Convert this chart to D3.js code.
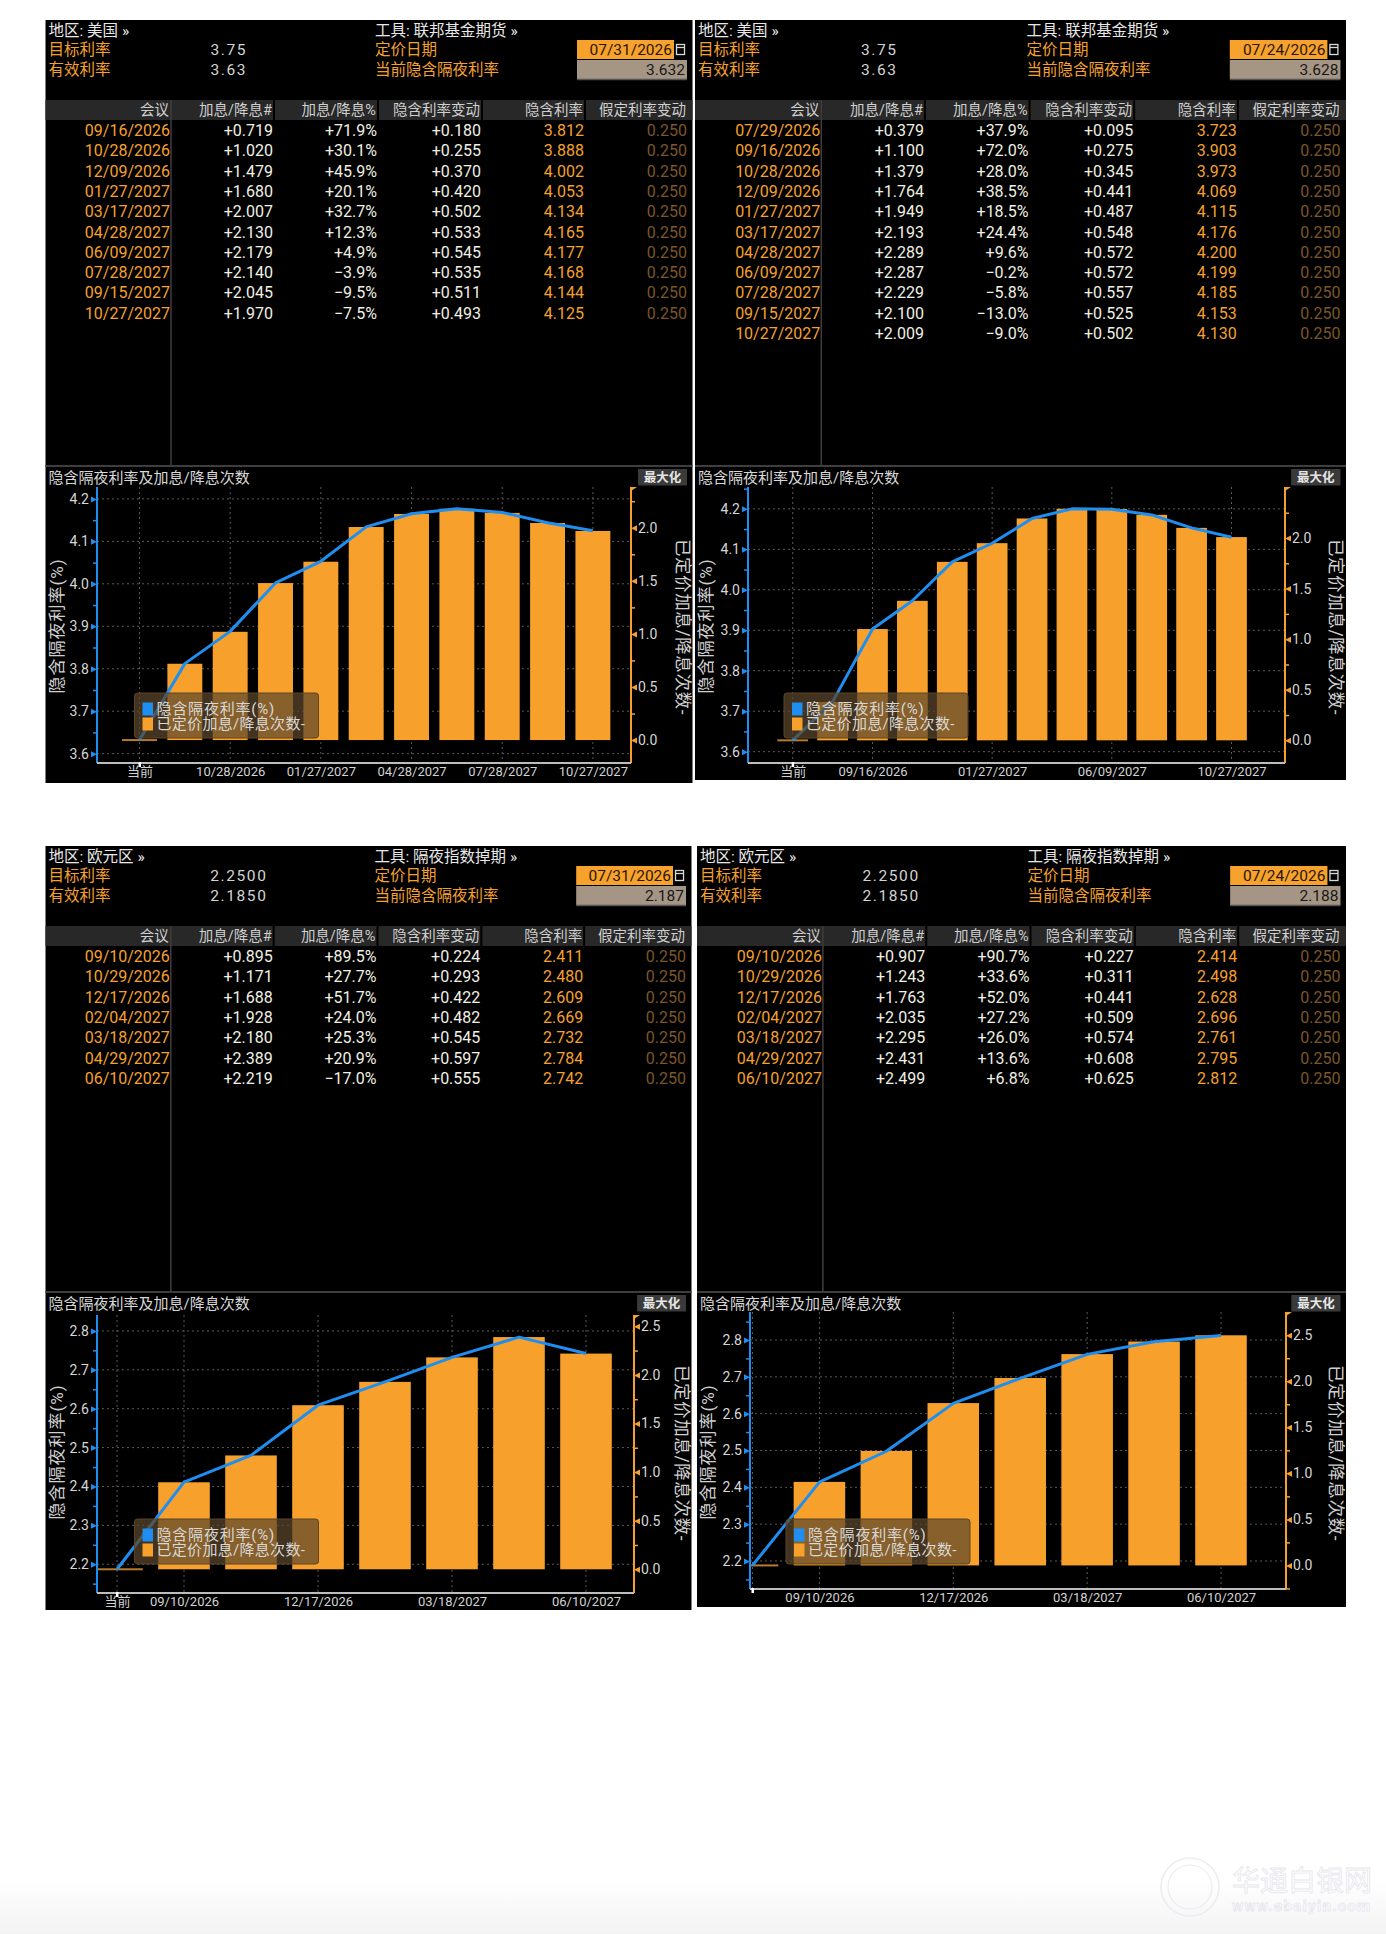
<!DOCTYPE html>
<html><head><meta charset="utf-8">
<script src="https://cdn.jsdelivr.net/npm/d3@7/dist/d3.min.js"></script>
<style>
body{margin:0;background:#fff}
text{font-family:Roboto,'Noto Sans CJK SC',sans-serif}
</style>
</head><body>
<svg id="c" width="1386" height="1934"></svg>
<script>
// ---------------- DATA ----------------
const usNewDates   = ["09/16/2026","10/28/2026","12/09/2026","01/27/2027","03/17/2027","04/28/2027","06/09/2027","07/28/2027","09/15/2027","10/27/2027"];
const usNewHikes   = [0.719,1.020,1.479,1.680,2.007,2.130,2.179,2.140,2.045,1.970];
const usNewPct     = [71.9,30.1,45.9,20.1,32.7,12.3,4.9,-3.9,-9.5,-7.5];
const usNewChg     = [0.180,0.255,0.370,0.420,0.502,0.533,0.545,0.535,0.511,0.493];
const usNewImplied = [3.812,3.888,4.002,4.053,4.134,4.165,4.177,4.168,4.144,4.125];
const usNewXLabels = ["当前","10/28/2026","01/27/2027","04/28/2027","07/28/2027","10/27/2027"];

const usOldDates   = ["07/29/2026","09/16/2026","10/28/2026","12/09/2026","01/27/2027","03/17/2027","04/28/2027","06/09/2027","07/28/2027","09/15/2027","10/27/2027"];
const usOldHikes   = [0.379,1.100,1.379,1.764,1.949,2.193,2.289,2.287,2.229,2.100,2.009];
const usOldPct     = [37.9,72.0,28.0,38.5,18.5,24.4,9.6,-0.2,-5.8,-13.0,-9.0];
const usOldChg     = [0.095,0.275,0.345,0.441,0.487,0.548,0.572,0.572,0.557,0.525,0.502];
const usOldImplied = [3.723,3.903,3.973,4.069,4.115,4.176,4.200,4.199,4.185,4.153,4.130];
const usOldXLabels = ["当前","09/16/2026","01/27/2027","06/09/2027","10/27/2027"];

const euNewDates   = ["09/10/2026","10/29/2026","12/17/2026","02/04/2027","03/18/2027","04/29/2027","06/10/2027"];
const euNewHikes   = [0.895,1.171,1.688,1.928,2.180,2.389,2.219];
const euNewPct     = [89.5,27.7,51.7,24.0,25.3,20.9,-17.0];
const euNewChg     = [0.224,0.293,0.422,0.482,0.545,0.597,0.555];
const euNewImplied = [2.411,2.480,2.609,2.669,2.732,2.784,2.742];
const euNewXLabels = ["当前","09/10/2026","12/17/2026","03/18/2027","06/10/2027"];

const euOldDates   = ["09/10/2026","10/29/2026","12/17/2026","02/04/2027","03/18/2027","04/29/2027","06/10/2027"];
const euOldHikes   = [0.907,1.243,1.763,2.035,2.295,2.431,2.499];
const euOldPct     = [90.7,33.6,52.0,27.2,26.0,13.6,6.8];
const euOldChg     = [0.227,0.311,0.441,0.509,0.574,0.608,0.625];
const euOldImplied = [2.414,2.498,2.628,2.696,2.761,2.795,2.812];
const euOldXLabels = ["09/10/2026","12/17/2026","03/18/2027","06/10/2027"];

const assumedStep = 0.250;
const usLeftTicks  = [3.6,3.7,3.8,3.9,4.0,4.1,4.2];
const euLeftTicks  = [2.2,2.3,2.4,2.5,2.6,2.7,2.8];
const usRightTicks = [0,0.5,1.0,1.5,2.0];
const euRightTicks = [0,0.5,1.0,1.5,2.0,2.5];
const tableHeads = ["会议","加息/降息#","加息/降息%","隐含利率变动","隐含利率","假定利率变动"];

// ---------------- CONFIG ----------------
const panels = [
 {region:"美国", tool:"联邦基金期货", target:"3.75", effective:"3.63", pricingDate:"07/31/2026", current:3.632,
  dates:usNewDates, hikes:usNewHikes, pct:usNewPct, chg:usNewChg, implied:usNewImplied, xLabels:usNewXLabels,
  leftTicks:usLeftTicks, rightTicks:usRightTicks,
  L:{x:45.5,y:20,w:647,h:763, axisL:51.5, axisR:585.5, first:94, last:547.4, top:467, bottom:743, yDomain:[3.578,4.228]}},
 {region:"美国", tool:"联邦基金期货", target:"3.75", effective:"3.63", pricingDate:"07/24/2026", current:3.628,
  dates:usOldDates, hikes:usOldHikes, pct:usOldPct, chg:usOldChg, implied:usOldImplied, xLabels:usOldXLabels,
  leftTicks:usLeftTicks, rightTicks:usRightTicks,
  L:{x:695,y:20,w:651,h:760, axisL:53, axisR:590, first:97.7, last:536.5, top:467, bottom:743, yDomain:[3.572,4.254]}},
 {region:"欧元区", tool:"隔夜指数掉期", target:"2.2500", effective:"2.1850", pricingDate:"07/31/2026", current:2.187,
  dates:euNewDates, hikes:euNewHikes, pct:euNewPct, chg:euNewChg, implied:euNewImplied, xLabels:euNewXLabels,
  leftTicks:euLeftTicks, rightTicks:euRightTicks,
  L:{x:45.5,y:846,w:646,h:764, axisL:51.5, axisR:588.5, first:71.5, last:540.5, top:469, bottom:747, yDomain:[2.126,2.841]}},
 {region:"欧元区", tool:"隔夜指数掉期", target:"2.2500", effective:"2.1850", pricingDate:"07/24/2026", current:2.188,
  dates:euOldDates, hikes:euOldHikes, pct:euOldPct, chg:euOldChg, implied:euOldImplied, xLabels:euOldXLabels,
  leftTicks:euLeftTicks, rightTicks:euRightTicks,
  L:{x:697,y:846,w:649,h:761, axisL:53, axisR:589, first:55.5, last:524, top:466, bottom:743, yDomain:[2.124,2.876]}}
];

const ORANGE = "#f5a02e", BAR = "#f7a12c", BLUE = "#1f8ef1", WHITE = "#f0f0e4", DIM = "#7c5628", GRAY = "#cfcfcf";
const svg = d3.select("#c");

const defs = svg.append("defs");
const grad = defs.append("linearGradient").attr("id","bg").attr("x1",0).attr("y1",0).attr("x2",0).attr("y2",1);
grad.append("stop").attr("offset","0").attr("stop-color","#ffffff");
grad.append("stop").attr("offset","1").attr("stop-color","#f3f3f3");
svg.append("rect").attr("x",0).attr("y",1880).attr("width",1386).attr("height",54).attr("fill","url(#bg)");

function txt(g,x,y,s,fill,size,anchor,extra){
  const t=g.append("text").attr("x",x).attr("y",y).text(s).attr("fill",fill)
    .attr("font-size",size).attr("text-anchor",anchor||"start").attr("dominant-baseline","central");
  if(extra) extra(t);
  return t;
}

function drawPanel(p,pi){
  const L=p.L, s=L.w/647;
  const hx=v=>v*s;
  const g=svg.append("g").attr("transform",`translate(${L.x},${L.y})`);
  g.append("rect").attr("width",L.w).attr("height",L.h).attr("fill","#000");

  // header
  txt(g,3,10.5,`地区: ${p.region} »`,"#e8e8e8",15.5);
  txt(g,3,30,"目标利率",ORANGE,15.5);
  txt(g,3,50,"有效利率",ORANGE,15.5);
  txt(g,hx(165),30,p.target,"#d4d4d4",15.5,"start",t=>t.attr("letter-spacing",1.6));
  txt(g,hx(165),50,p.effective,"#d4d4d4",15.5,"start",t=>t.attr("letter-spacing",1.6));
  txt(g,hx(329.5),10.5,`工具: ${p.tool} »`,"#e8e8e8",15.5);
  txt(g,hx(329.5),30,"定价日期",ORANGE,15.5);
  txt(g,hx(329.5),50,"当前隐含隔夜利率",ORANGE,15.5);
  g.append("rect").attr("x",hx(531.5)).attr("y",20).attr("width",hx(97)).attr("height",19).attr("fill","#f7a22d");
  txt(g,hx(626.5),30,p.pricingDate,"#2a1600",15.5,"end");
  g.append("rect").attr("x",hx(631)).attr("y",24.5).attr("width",8).attr("height",10).attr("fill","none").attr("stroke","#d8d8d8").attr("stroke-width",1.3);
  g.append("line").attr("x1",hx(631)).attr("x2",hx(631)+8).attr("y1",27.5).attr("y2",27.5).attr("stroke","#d8d8d8").attr("stroke-width",1.3);
  g.append("rect").attr("x",hx(531.5)).attr("y",40).attr("width",hx(110)).attr("height",19).attr("fill","#a49584");
  g.append("line").attr("x1",hx(531.5)).attr("x2",hx(641.5)).attr("y1",59.5).attr("y2",59.5).attr("stroke","#555").attr("stroke-width",1.5);
  txt(g,hx(639.5),50,d3.format(".3f")(p.current),"#181818",15.5,"end");

  // table
  const colR=[124.5,227.5,331.5,435.5,538.5,641.5].map(hx);
  g.append("rect").attr("x",0).attr("y",80).attr("width",L.w).attr("height",20).attr("fill","#282828");
  [228.5,332.5,436.5,539.5].forEach(v=>g.append("line").attr("x1",hx(v)).attr("x2",hx(v)).attr("y1",80).attr("y2",100).attr("stroke","#000").attr("stroke-width",2));
  tableHeads.forEach((h,i)=>txt(g,colR[i]-1,90,h,GRAY,14.5,"end"));
  g.append("line").attr("x1",hx(125.5)).attr("x2",hx(125.5)).attr("y1",80).attr("y2",446).attr("stroke","#3e3e3e").attr("stroke-width",1.5);
  g.append("line").attr("x1",0).attr("x2",L.w).attr("y1",446).attr("y2",446).attr("stroke","#3e3e3e").attr("stroke-width",2);
  const fH=d3.format("+.3f"), fP=v=>d3.format("+.1f")(v)+"%", fI=d3.format(".3f");
  p.dates.forEach((d,i)=>{
    const y=110.5+i*20.3;
    txt(g,colR[0],y,d,ORANGE,16,"end");
    txt(g,colR[1],y,fH(p.hikes[i]),WHITE,16,"end");
    txt(g,colR[2],y,fP(p.pct[i]),WHITE,16,"end");
    txt(g,colR[3],y,fH(p.chg[i]),WHITE,16,"end");
    txt(g,colR[4],y,fI(p.implied[i]),ORANGE,16,"end");
    txt(g,colR[5],y,fI(assumedStep),DIM,16,"end");
  });

  // chart title + button
  txt(g,3,458,"隐含隔夜利率及加息/降息次数","#d8d8d8",15);
  g.append("rect").attr("x",hx(592.5)).attr("y",449).attr("width",hx(49)).attr("height",16.5).attr("fill","#3a3a3a");
  txt(g,hx(617),457.5,"最大化","#e6e6e6",12.5,"middle",t=>t.attr("font-weight","bold"));

  // scales
  const cats=["当前",...p.dates];
  const x=d3.scalePoint().domain(cats).range([L.first,L.last]);
  const step=x.step(), bw=step*0.77;
  const y=d3.scaleLinear().domain(L.yDomain).range([L.bottom,L.top]);
  const yR=d3.scaleLinear().domain(L.yDomain.map(v=>(v-p.current)/assumedStep)).range([L.bottom,L.top]);

  // grid
  const plot=g.append("g");
  p.leftTicks.forEach(v=>plot.append("line").attr("x1",L.axisL).attr("x2",L.axisR).attr("y1",y(v)).attr("y2",y(v))
    .attr("stroke","#5a5a5a").attr("stroke-width",1).attr("stroke-dasharray","2,3"));
  const gridCats=p.xLabels.includes("当前")?p.xLabels:["当前",...p.xLabels];
  gridCats.forEach(c=>plot.append("line").attr("x1",x(c)).attr("x2",x(c)).attr("y1",L.top).attr("y2",L.bottom)
    .attr("stroke","#5a5a5a").attr("stroke-width",1).attr("stroke-dasharray","2,3"));

  // clip (local coords)
  const clipId="clip"+pi;
  defs.append("clipPath").attr("id",clipId).append("rect")
    .attr("x",L.axisL).attr("y",L.top).attr("width",L.axisR-L.axisL).attr("height",L.bottom-L.top);
  const inner=g.append("g").attr("clip-path",`url(#${clipId})`);

  // bars
  inner.selectAll("rect.bar").data(p.dates).join("rect").attr("class","bar")
    .attr("x",d=>x(d)-bw/2).attr("width",bw)
    .attr("y",(d,i)=>yR(p.hikes[i])).attr("height",(d,i)=>yR(0)-yR(p.hikes[i]))
    .attr("fill",BAR);
  inner.append("rect").attr("x",x("当前")-bw/2).attr("width",bw).attr("y",yR(0)-1).attr("height",2).attr("fill","#b87a2e");

  // line
  const pts=[[x("当前"),y(p.current)],...p.dates.map((d,i)=>[x(d),y(p.implied[i])])];
  inner.append("path").attr("d",d3.line()(pts)).attr("fill","none").attr("stroke",BLUE).attr("stroke-width",3).attr("stroke-linejoin","round");

  // left axis
  const la=g.append("g").attr("transform",`translate(${L.axisL},0)`);
  la.call(d3.axisLeft(y).tickValues(p.leftTicks).tickSize(0).tickPadding(8).tickFormat(d3.format(".1f")));
  const minorL=d3.range(0,p.leftTicks.length-1).map(i=>p.leftTicks[i]+0.05).concat([p.leftTicks[0]-0.05, p.leftTicks[p.leftTicks.length-1]+0.05]).filter(v=>v>L.yDomain[0]&&v<L.yDomain[1]);
  const laMinor=g.append("g").attr("transform",`translate(${L.axisL},0)`).call(d3.axisLeft(y).tickValues(minorL).tickSize(4).tickFormat(""));
  [la,laMinor].forEach(a=>{a.select(".domain").remove(); a.selectAll("line").attr("stroke",BLUE).attr("stroke-width",1.5);});
  la.selectAll("text").attr("fill","#d6d6d6").attr("font-size",14).attr("font-family","Roboto");
  la.selectAll(".tick").append("path").attr("d","M-6,-3L0,0L-6,3Z").attr("fill",BLUE);
  g.append("line").attr("x1",L.axisL).attr("x2",L.axisL).attr("y1",L.top).attr("y2",L.bottom).attr("stroke",BLUE).attr("stroke-width",2);

  // right axis
  const ra=g.append("g").attr("transform",`translate(${L.axisR},0)`);
  ra.call(d3.axisRight(yR).tickValues(p.rightTicks).tickSize(0).tickPadding(7).tickFormat(d3.format(".1f")));
  const minorR=p.rightTicks.map(v=>v+0.25).concat([-0.25]).filter(v=>yR(v)>L.top&&yR(v)<L.bottom);
  const raMinor=g.append("g").attr("transform",`translate(${L.axisR},0)`).call(d3.axisRight(yR).tickValues(minorR).tickSize(4).tickFormat(""));
  [ra,raMinor].forEach(a=>{a.select(".domain").remove(); a.selectAll("line").attr("stroke",ORANGE).attr("stroke-width",1.5);});
  ra.selectAll("text").attr("fill","#d6d6d6").attr("font-size",14).attr("font-family","Roboto");
  ra.selectAll(".tick").append("path").attr("d","M6,-3L0,0L6,3Z").attr("fill",ORANGE);
  g.append("line").attr("x1",L.axisR).attr("x2",L.axisR).attr("y1",L.top).attr("y2",L.bottom).attr("stroke",ORANGE).attr("stroke-width",2);
  g.append("path").attr("d",`M${L.axisR},${L.top}l6,0l-6,4Z`).attr("fill",ORANGE);

  // bottom axis
  const ba=g.append("g").attr("transform",`translate(0,${L.bottom})`);
  ba.call(d3.axisBottom(x).tickValues(p.xLabels).tickSize(0).tickPadding(4));
  ba.select(".domain").remove();
  ba.selectAll("text").attr("fill","#d2d2d2").attr("font-size",13).attr("font-family",d=>d==="当前"?"'Noto Sans CJK SC'":"Roboto");
  g.append("line").attr("x1",L.axisL).attr("x2",L.axisR).attr("y1",L.bottom).attr("y2",L.bottom).attr("stroke","#bdbdbd").attr("stroke-width",2);
  g.append("rect").attr("x",x("当前")-1).attr("y",L.bottom-1).attr("width",2.5).attr("height",5).attr("fill","#fff");

  // axis titles
  g.append("text").attr("transform",`translate(11,606) rotate(-90)`).attr("text-anchor","middle").attr("dominant-baseline","central")
    .attr("fill","#cfcfcf").attr("font-size",17).attr("letter-spacing",1).text("隐含隔夜利率(%)");
  g.append("text").attr("transform",`translate(${hx(637.5)},607) rotate(90)`).attr("text-anchor","middle").attr("dominant-baseline","central")
    .attr("fill","#cfcfcf").attr("font-size",17.5).attr("letter-spacing",0.6).text("已定价加息/降息次数-");

  // legend (on top of bars)
  const lg=g.append("g").attr("transform","translate(89,673)");
  lg.append("rect").attr("width",184).attr("height",45).attr("rx",3).attr("fill","rgb(92,70,44)").attr("fill-opacity",0.72).attr("stroke","#5a4426").attr("stroke-width",1);
  lg.append("rect").attr("x",8).attr("y",9.5).attr("width",10.5).attr("height",13).attr("fill",BLUE);
  lg.append("rect").attr("x",8).attr("y",24.5).attr("width",10.5).attr("height",13).attr("fill",BAR);
  txt(lg,22,16,"隐含隔夜利率(%)","#d8d8d8",15,"start",t=>t.attr("letter-spacing",0.8));
  txt(lg,22,31,"已定价加息/降息次数-","#d8d8d8",15,"start",t=>t.attr("letter-spacing",0.3));
}
panels.forEach(drawPanel);

// watermark
const wm=svg.append("g");
wm.append("circle").attr("cx",1190).attr("cy",1887).attr("r",29).attr("fill","none").attr("stroke","#ececf2").attr("stroke-width",1.6);
wm.append("circle").attr("cx",1190).attr("cy",1887).attr("r",22).attr("fill","none").attr("stroke","#ececf2").attr("stroke-width",1.2);
wm.append("text").attr("x",1232).attr("y",1891).attr("font-size",28).attr("font-family","'Noto Sans CJK SC'").attr("fill","#fff").attr("stroke","#e8e8ee").attr("stroke-width",0.9).text("华通白银网");
wm.append("text").attr("x",1232).attr("y",1911).attr("font-size",15).attr("font-weight","bold").attr("fill","#fff").attr("stroke","#e8e8ee").attr("stroke-width",0.9).attr("textLength",138).text("www.ebaiyin.com");
</script>
</body></html>
